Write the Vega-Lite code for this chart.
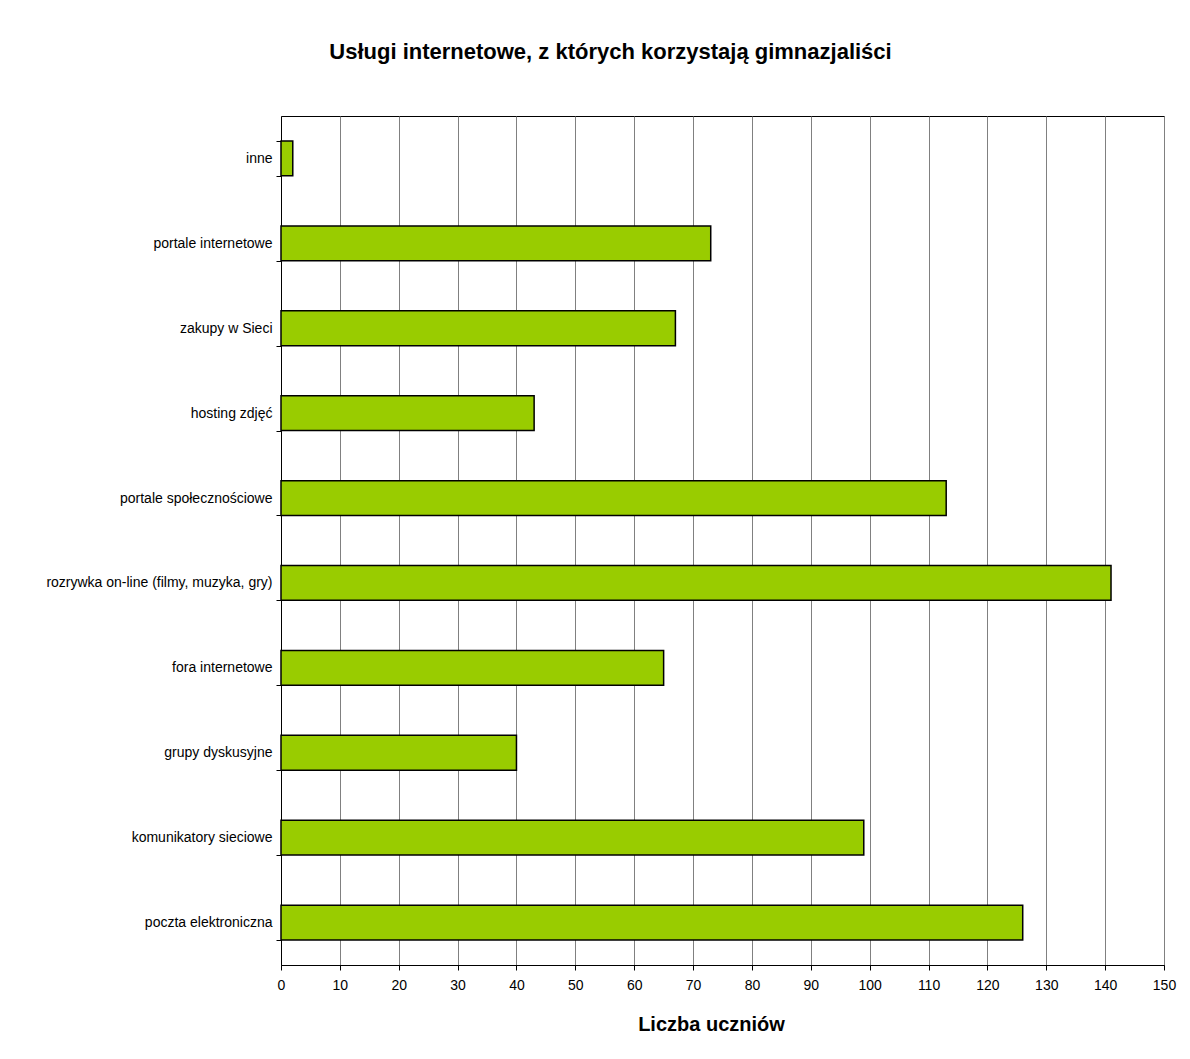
{
  "$schema": "https://vega.github.io/schema/vega-lite/v6.json",
  "autosize": {"type": "none"},
  "width": 883,
  "height": 849,
  "padding": {"left": 281, "top": 116, "right": 26, "bottom": 94},
  "background": "white",
  "title": {
    "text": "Usługi internetowe, z których korzystają gimnazjaliści",
    "font": "Liberation Sans",
    "fontSize": 22,
    "fontWeight": "bold",
    "color": "black",
    "anchor": "middle",
    "dx": -112,
    "offset": 45
  },
  "data": {
    "values": [
      {"usluga": "inne", "liczba": 2},
      {"usluga": "portale internetowe", "liczba": 73},
      {"usluga": "zakupy w Sieci", "liczba": 67},
      {"usluga": "hosting zdjęć", "liczba": 43},
      {"usluga": "portale społecznościowe", "liczba": 113},
      {"usluga": "rozrywka on-line (filmy, muzyka, gry)", "liczba": 141},
      {"usluga": "fora internetowe", "liczba": 65},
      {"usluga": "grupy dyskusyjne", "liczba": 40},
      {"usluga": "komunikatory sieciowe", "liczba": 99},
      {"usluga": "poczta elektroniczna", "liczba": 126}
    ]
  },
  "mark": {"type": "bar", "fill": "#99CC00", "stroke": "black", "strokeWidth": 1.5},
  "encoding": {
    "y": {
      "field": "usluga",
      "type": "nominal",
      "sort": null,
      "scale": {"paddingInner": 0.59, "paddingOuter": 0.295},
      "axis": {
        "title": null,
        "tickBand": "extent",
        "domainColor": "black",
        "tickColor": "black",
        "tickSize": 5,
        "labelFont": "Liberation Sans",
        "labelFontSize": 14,
        "labelColor": "black",
        "labelPadding": 4,
        "labelLimit": 300,
        "grid": false
      }
    },
    "x": {
      "field": "liczba",
      "type": "quantitative",
      "scale": {"domain": [0, 150], "nice": false},
      "axis": {
        "title": "Liczba uczniów",
        "titleFont": "Liberation Sans",
        "titleFontSize": 20,
        "titleFontWeight": "bold",
        "titleColor": "black",
        "titlePadding": 22,
        "titleX": 430,
        "values": [0,10,20,30,40,50,60,70,80,90,100,110,120,130,140,150],
        "grid": true,
        "gridColor": "#808080",
        "gridOpacity": 1,
        "domainColor": "black",
        "tickColor": "black",
        "tickSize": 5,
        "labelFont": "Liberation Sans",
        "labelFontSize": 14,
        "labelColor": "black",
        "labelPadding": 8,
        "labelFlush": false
      }
    }
  },
  "config": {
    "view": {"stroke": "black", "strokeWidth": 1}
  }
}
